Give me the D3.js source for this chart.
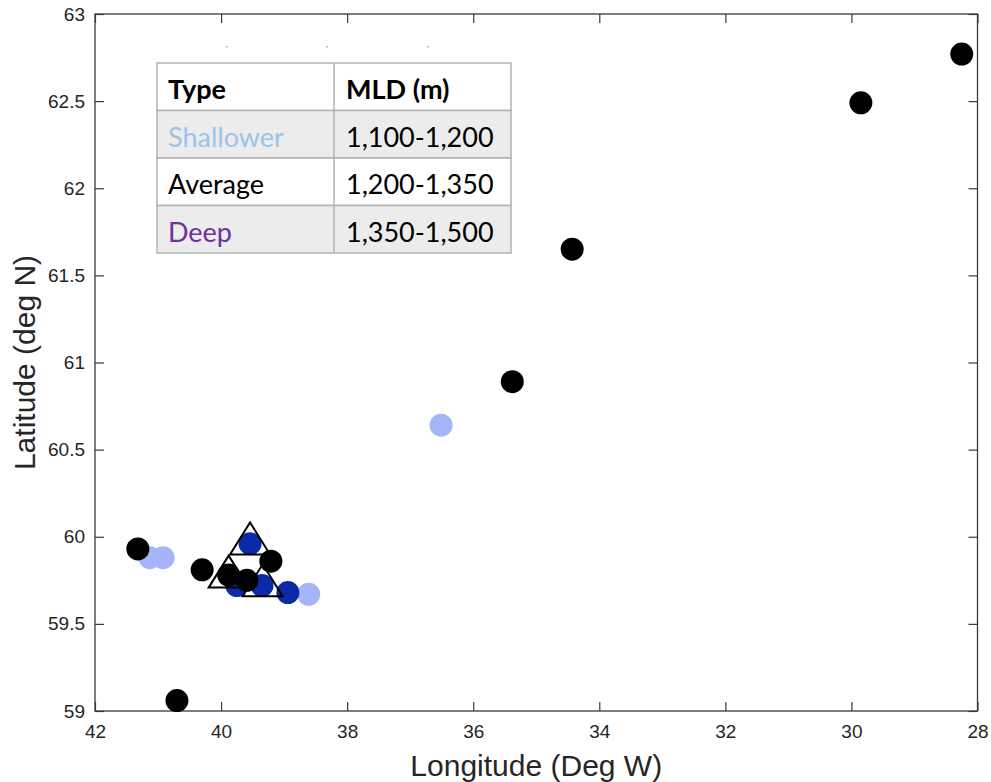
<!DOCTYPE html>
<head>
<meta charset="utf-8">
<script src="https://d3js.org/d3.v7.min.js"></script>
<style>
  body { margin: 0; background: #fff; }
</style>
</head>
<body>
<div id="chart"></div>
<script>

// point positions (longitude in deg W, latitude in deg N)
var shallower = [[36.51, 60.64], [41.13, 59.88], [40.92, 59.88], [38.61, 59.67]];
var deep = [[39.54, 59.96], [39.75, 59.72], [39.35, 59.72], [38.94, 59.68]];
var average = [[28.25, 62.77], [29.85, 62.49], [34.43, 61.65], [35.38, 60.89],
               [41.32, 59.93], [40.30, 59.81], [39.21, 59.86], [39.88, 59.78],
               [39.59, 59.75], [40.70, 59.06]];
var triangles = [[39.54, 59.99], [39.88, 59.80], [39.34, 59.75]];

var xTicks = [42, 40, 38, 36, 34, 32, 30, 28];
var yTicks = [59, 59.5, 60, 60.5, 61, 61.5, 62, 62.5, 63];

// legend table rows
var tableHeader = ["Type", "MLD (m)"];
var tableTypes = ["Shallower", "Average", "Deep"];
var tableRanges = ["1,100-1,200", "1,200-1,350", "1,350-1,500"];
var typeColors = ["#9dc3e6", "#000000", "#7030a0"];

var width = 991,
    height = 782;

var svg = d3.select("#chart")
    .append("svg")
    .attr("width", width)
    .attr("height", height);

// plot box
var plotL = 95, plotR = 977.5, plotT = 14, plotB = 711;

var x = d3.scaleLinear().domain([42, 28]).range([plotL, plotR]);
var y = d3.scaleLinear().domain([59, 63]).range([plotB, plotT]);

var axisColor = "#3a3a3a";
var tickLen = 9;
var tickFont = "'Liberation Sans', Arial, sans-serif";

// axes with inward ticks on all four sides (matlab style)
svg.append("g")
    .attr("transform", "translate(0," + plotB + ")")
    .call(d3.axisBottom(x).tickValues(xTicks).tickSize(-tickLen).tickPadding(14).tickFormat(d3.format("d")))
    .attr("font-size", 19).attr("font-family", tickFont)
    .call(g => g.select(".domain").remove());
svg.append("g")
    .attr("transform", "translate(0," + plotT + ")")
    .call(d3.axisTop(x).tickValues(xTicks).tickSize(-tickLen).tickFormat(""))
    .call(g => g.select(".domain").remove());
svg.append("g")
    .attr("transform", "translate(" + plotL + ",0)")
    .call(d3.axisLeft(y).tickValues(yTicks).tickSize(-tickLen).tickPadding(10).tickFormat(d3.format("")))
    .attr("font-size", 19).attr("font-family", tickFont)
    .call(g => g.select(".domain").remove());
svg.append("g")
    .attr("transform", "translate(" + plotR + ",0)")
    .call(d3.axisRight(y).tickValues(yTicks).tickSize(-tickLen).tickFormat(""))
    .call(g => g.select(".domain").remove());

svg.selectAll(".tick line").attr("stroke", axisColor).attr("stroke-width", 1.2);
svg.selectAll(".tick text").attr("fill", "#262626");

svg.append("rect")
    .attr("x", plotL).attr("y", plotT)
    .attr("width", plotR - plotL).attr("height", plotB - plotT)
    .attr("fill", "none")
    .attr("stroke", axisColor)
    .attr("stroke-width", 1.3);

// axis titles
svg.append("text")
    .attr("x", (plotL + plotR) / 2)
    .attr("y", 776)
    .attr("text-anchor", "middle")
    .attr("fill", "#262626")
    .attr("font-family", tickFont)
    .attr("font-size", 30)
    .text("Longitude (Deg W)");

svg.append("text")
    .attr("transform", "translate(35," + ((plotT + plotB) / 2) + ") rotate(-90)")
    .attr("text-anchor", "middle")
    .attr("fill", "#262626")
    .attr("font-family", tickFont)
    .attr("font-size", 30)
    .text("Latitude (deg N)");

// markers
var r = 11.5;
function dots(data, color) {
    svg.append("g").selectAll("circle")
        .data(data)
        .enter().append("circle")
        .attr("cx", d => x(d[0]))
        .attr("cy", d => y(d[1]))
        .attr("r", r)
        .attr("fill", color);
}
dots(shallower, "#a6b5f9");
dots(deep, "#0c2aa8");
dots(average, "#000");

var tw = 40, th = 32;
svg.append("g").selectAll("path")
    .data(triangles)
    .enter().append("path")
    .attr("d", d => {
        var cx = x(d[0]), cy = y(d[1]);
        return "M" + cx + "," + (cy - th / 2) +
            "L" + (cx + tw / 2) + "," + (cy + th / 2) +
            "L" + (cx - tw / 2) + "," + (cy + th / 2) + "Z";
    })
    .attr("fill", "none")
    .attr("stroke", "#000")
    .attr("stroke-width", 2)
    .attr("stroke-linejoin", "miter");

// legend table pasted over the plot
var tx = 157, ty = 63, colSplit = 334, tRight = 511, rowH = 47.5;
var table = svg.append("g");
var rows = [tableHeader].concat(tableTypes.map((t, i) => [t, tableRanges[i]]));

table.selectAll("rect.row")
    .data(rows)
    .enter().append("rect")
    .attr("class", "row")
    .attr("x", tx)
    .attr("y", (d, i) => ty + i * rowH)
    .attr("width", tRight - tx)
    .attr("height", rowH)
    .attr("fill", (d, i) => i % 2 == 1 ? "#ececec" : "#fff")
    .attr("stroke", "#b3b3b3")
    .attr("stroke-width", 1.5);

table.append("line")
    .attr("x1", colSplit).attr("x2", colSplit)
    .attr("y1", ty).attr("y2", ty + rows.length * rowH)
    .attr("stroke", "#b3b3b3")
    .attr("stroke-width", 1.5);

rows.forEach(function(row, i) {
    var base = ty + i * rowH + 36;
    table.append("text")
        .attr("x", 168)
        .attr("y", base)
        .attr("fill", i == 0 ? "#000" : typeColors[i - 1])
        .attr("font-family", "Lato, 'Open Sans', sans-serif")
        .attr("font-size", 27)
        .attr("font-weight", i == 0 ? "bold" : "normal")
        .text(row[0]);
    table.append("text")
        .attr("x", 346)
        .attr("y", base)
        .attr("fill", "#000")
        .attr("font-family", "Lato, 'Open Sans', sans-serif")
        .attr("font-size", 27)
        .attr("font-weight", i == 0 ? "bold" : "normal")
        .text(row[1]);
});

// faint specks above the table from the pasted image
table.selectAll("rect.speck")
    .data([226, 326, 427])
    .enter().append("rect")
    .attr("class", "speck")
    .attr("x", d => d)
    .attr("y", 46)
    .attr("width", 2)
    .attr("height", 1.5)
    .attr("fill", "#bdbdbd");

</script>
</body>
